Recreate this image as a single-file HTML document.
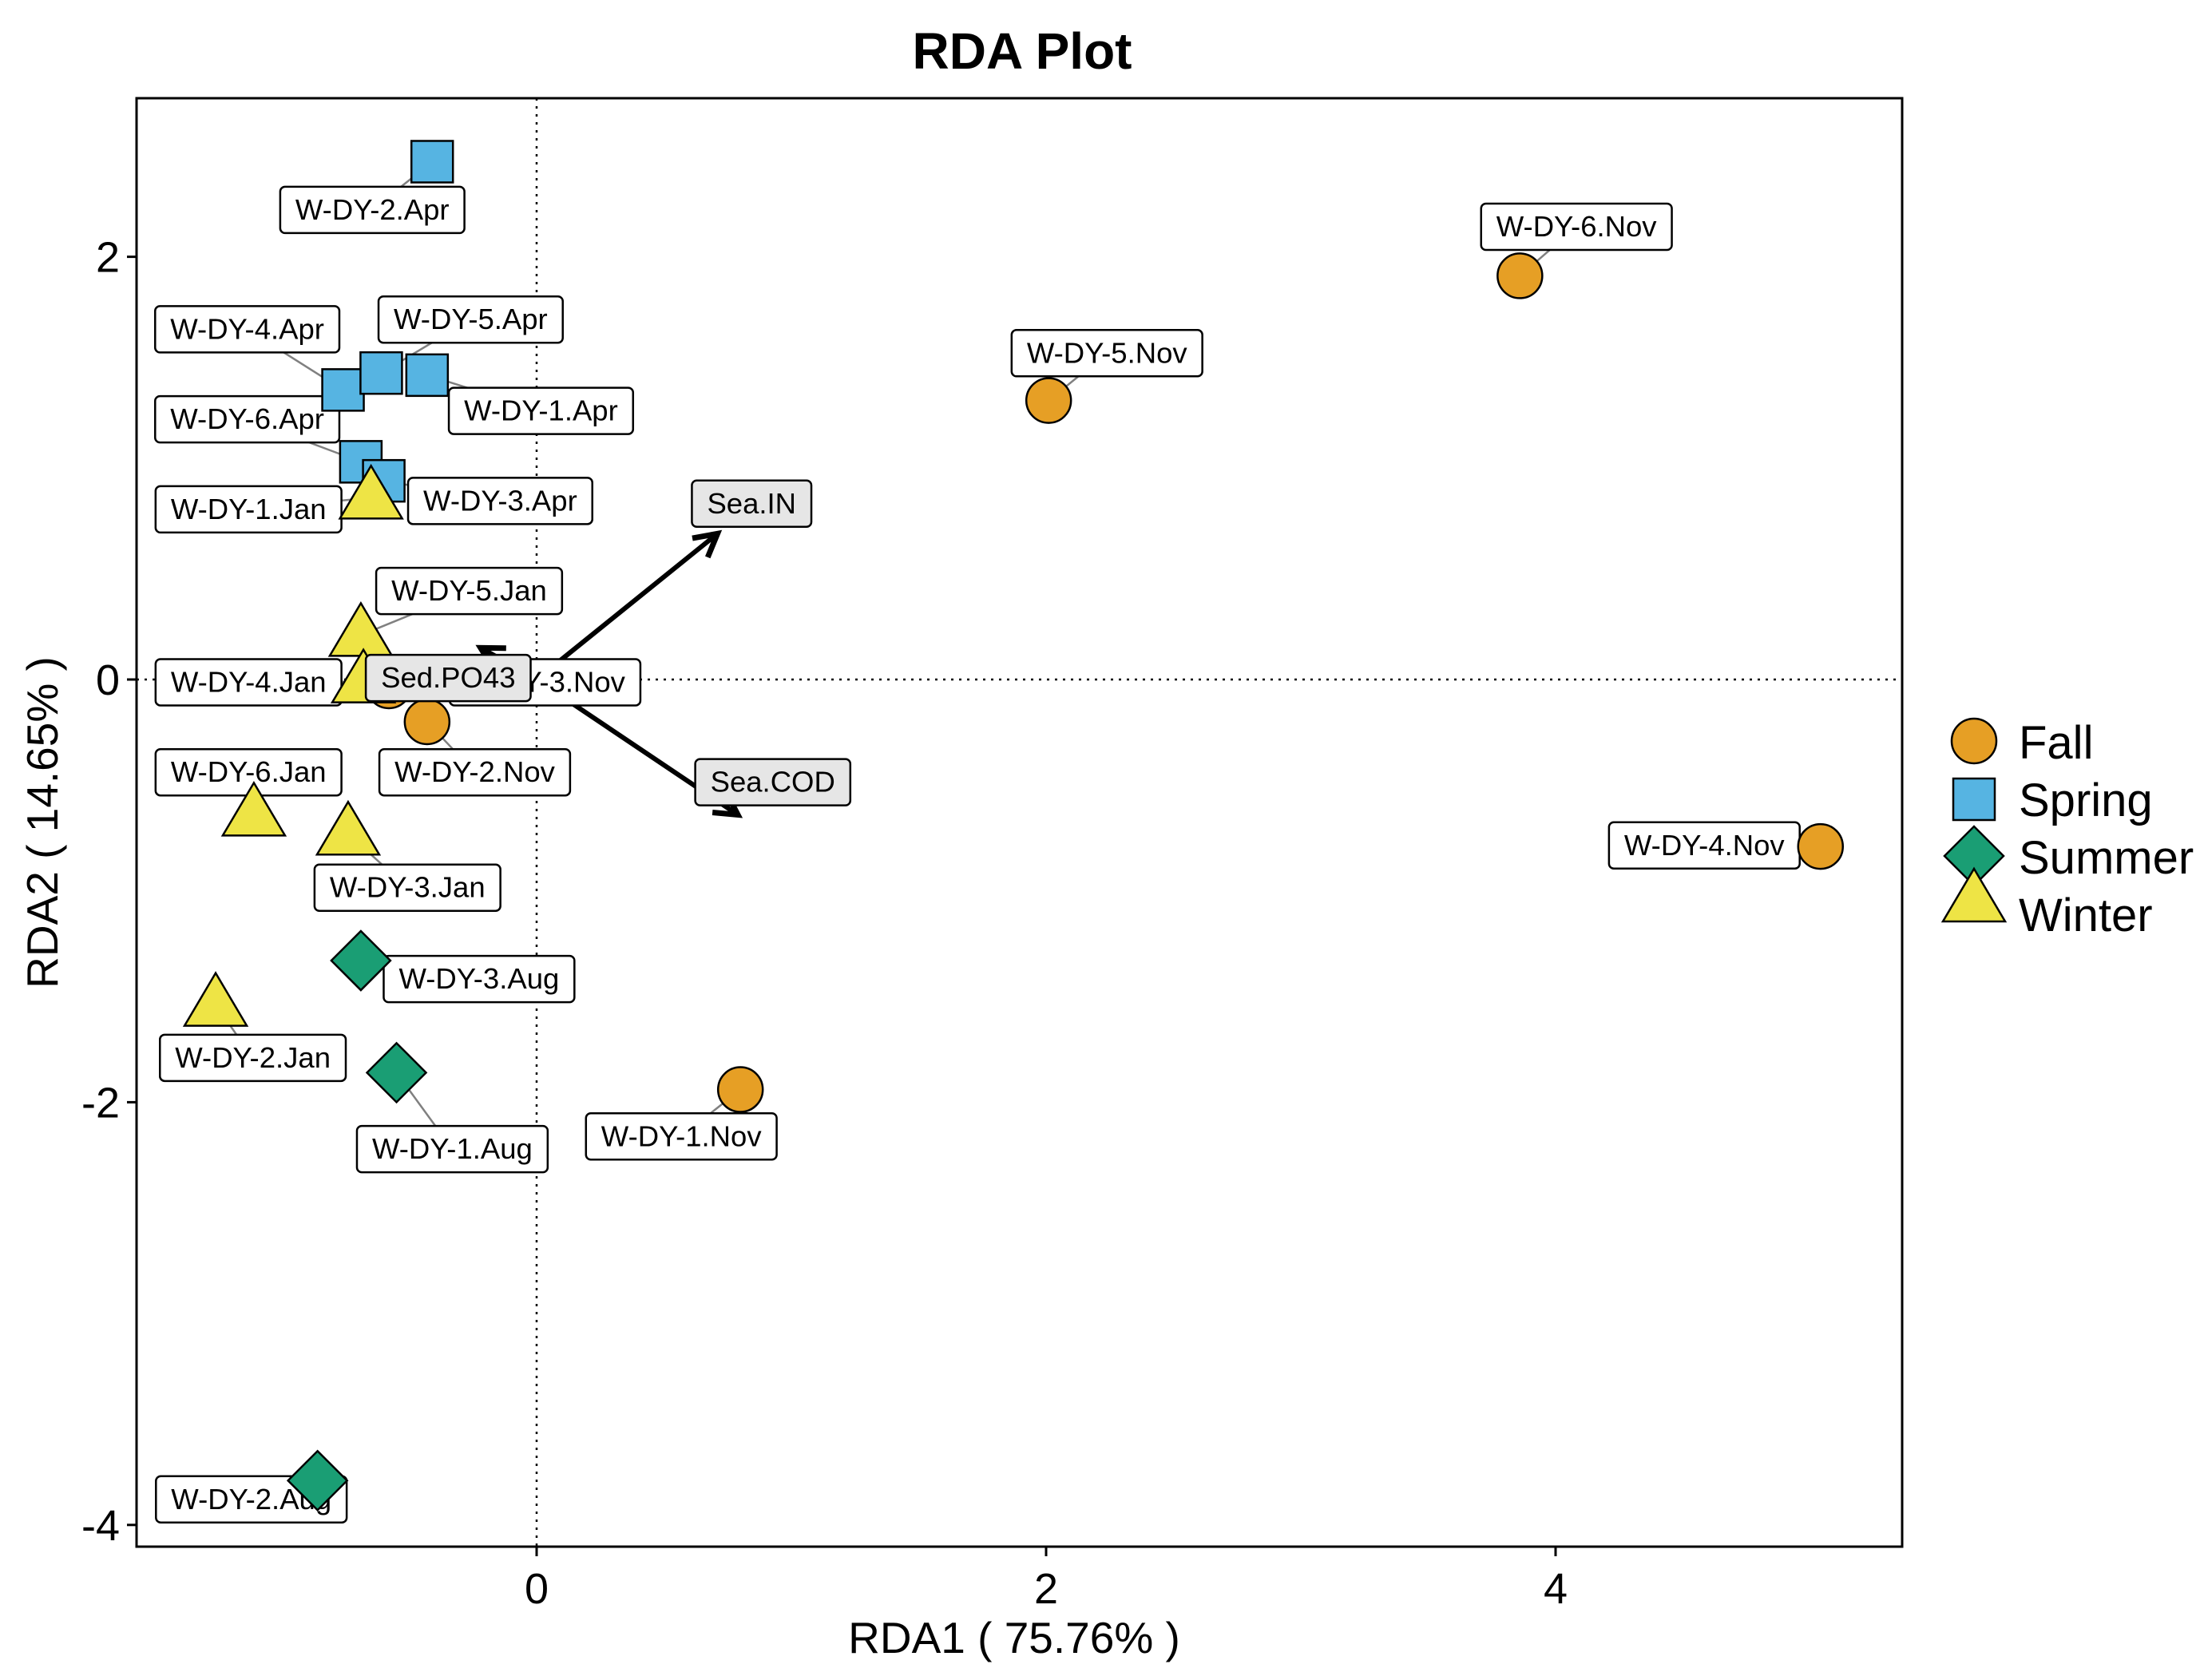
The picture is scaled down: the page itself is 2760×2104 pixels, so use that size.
<!DOCTYPE html>
<html><head><meta charset="utf-8"><title>RDA Plot</title>
<style>html,body{margin:0;padding:0;background:#fff}svg{display:block}text{font-family:"Liberation Sans",Arial,sans-serif}</style>
</head><body>
<svg id="chart" width="2760" height="2104" viewBox="0 0 2760 2104">
<text x="1280" y="86" font-size="64" font-weight="bold" text-anchor="middle">RDA Plot</text>
<g id="axes"></g>
<g id="segs"></g>
<g id="arrows"></g>
<g id="labels"></g>
<g id="points"></g>
<g id="envlabels"></g>
<g id="legend"></g>
</svg>
<script>
const siteNames = ["W-DY-6.Nov","W-DY-5.Nov","W-DY-4.Nov","W-DY-1.Nov","W-DY-2.Nov","W-DY-3.Nov",
 "W-DY-2.Apr","W-DY-4.Apr","W-DY-5.Apr","W-DY-1.Apr","W-DY-6.Apr","W-DY-3.Apr",
 "W-DY-1.Jan","W-DY-5.Jan","W-DY-4.Jan","W-DY-6.Jan","W-DY-3.Jan","W-DY-2.Jan",
 "W-DY-3.Aug","W-DY-1.Aug","W-DY-2.Aug"];
const siteSeason = ["Fall","Fall","Fall","Fall","Fall","Fall",
 "Spring","Spring","Spring","Spring","Spring","Spring",
 "Winter","Winter","Winter","Winter","Winter","Winter",
 "Summer","Summer","Summer"];
const siteX = [3.86,2.01,5.04,0.80,-0.43,-0.58, -0.41,-0.76,-0.61,-0.43,-0.69,-0.60, -0.65,-0.69,-0.68,-1.11,-0.74,-1.26, -0.69,-0.55,-0.86];
const siteY = [1.91,1.32,-0.79,-1.94,-0.20,-0.03, 2.45,1.37,1.45,1.44,1.03,0.94, 0.86,0.21,-0.01,-0.64,-0.73,-1.54, -1.33,-1.86,-3.79];
const labelX = [4.082,2.239,4.584,0.568,-0.243,0.033, -0.645,-1.136,-0.259,0.017,-1.136,-0.143, -1.131,-0.265,-1.131,-1.131,-0.507,-1.114, -0.226,-0.331,-1.120];
const labelY = [2.142,1.544,-0.785,-2.162,-0.439,-0.013, 2.222,1.657,1.703,1.271,1.231,0.845, 0.805,0.419,-0.013,-0.439,-0.985,-1.790, -1.417,-2.222,-3.879];
const envNames = ["Sea.IN","Sea.COD","Sed.PO43"];
const envX = [0.71,0.79,-0.22];
const envY = [0.69,-0.64,0.15];
const envLabelX = [0.844,0.927,-0.347];
const envLabelY = [0.832,-0.486,0.007];
const xTicks = [0,2,4];
const yTicks = [2,0,-2,-4];
const seasons = ["Fall","Spring","Summer","Winter"];

const colors = {Fall:"#E69F25",Spring:"#56B4E2",Summer:"#1A9E74",Winter:"#EEE445"};
const NS="http://www.w3.org/2000/svg";
const L=171,R=2382,T=123,B=1937;
const X=v=>672+v*319, Y=v=>851-v*264.7;
function mk(tag,attrs,parent){const e=document.createElementNS(NS,tag);for(const k in attrs)e.setAttribute(k,attrs[k]);parent.appendChild(e);return e;}
const axes=document.getElementById('axes');
let e;
e=mk('rect',{x:L,y:T,width:R-L,height:B-T,fill:'none',stroke:'#000','stroke-width':3},axes);


e=mk('line',{x1:X(0),x2:X(0),y1:T,y2:B,stroke:'#000','stroke-width':2.5,'stroke-dasharray':'3 7'},axes);


e=mk('line',{x1:L,x2:R,y1:Y(0),y2:Y(0),stroke:'#000','stroke-width':2.5,'stroke-dasharray':'3 7'},axes);


xTicks.forEach(t=>{
 e=mk('line',{x1:X(t),x2:X(t),y1:B,y2:B+12,stroke:'#000','stroke-width':3},axes);
 
 
 e=mk('text',{x:X(t),y:2008,'font-size':54,'text-anchor':'middle'},axes);e.textContent=t;
 
 
});
yTicks.forEach(t=>{
 e=mk('line',{x1:L-12,x2:L,y1:Y(t),y2:Y(t),stroke:'#000','stroke-width':3},axes);
 
 
 e=mk('text',{x:150,y:Y(t)+19,'font-size':54,'text-anchor':'end'},axes);e.textContent=t;
 
 
});
e=mk('text',{x:1270,y:2070,'font-size':55,'text-anchor':'middle'},axes);e.textContent='RDA1 ( 75.76% )';


e=mk('text',{x:0,y:0,'font-size':55,'text-anchor':'middle',transform:'translate(72,1030) rotate(-90)'},axes);e.textContent='RDA2 ( 14.65% )';



function marker(season,cx,cy,parent,s){
 s=s||1;let m;const st={fill:colors[season],stroke:'#000','stroke-width':2.5};
 if(season==='Fall')m=mk('circle',Object.assign({cx:cx,cy:cy,r:28*s},st),parent);
 else if(season==='Spring')m=mk('rect',Object.assign({x:cx-26*s,y:cy-26*s,width:52*s,height:52*s},st),parent);
 else if(season==='Summer')m=mk('polygon',Object.assign({points:`${cx},${cy-37*s} ${cx+37*s},${cy} ${cx},${cy+37*s} ${cx-37*s},${cy}`},st),parent);
 else m=mk('polygon',Object.assign({points:`${cx},${cy-40*s} ${cx+39*s},${cy+26*s} ${cx-39*s},${cy+26*s}`},st),parent);
 return m;
}
const segs=document.getElementById('segs'),pts=document.getElementById('points'),labs=document.getElementById('labels');
function drawLabel(name,lx,ly,parent,fill,dn){
 const g=mk('g',{},parent);
 
 
 const r=mk('rect',{x:0,y:ly-29,width:10,height:58,rx:6,fill:fill,stroke:'#000','stroke-width':2.5},g);
 const t=mk('text',{x:lx,y:ly+12,'font-size':36.5,'text-anchor':'middle'},g);t.textContent=name;
 const w=t.getComputedTextLength()+38;
 r.setAttribute('x',lx-w/2);r.setAttribute('width',w);
 return w;
}
siteNames.forEach((n,i)=>{
 const px=X(siteX[i]),py=Y(siteY[i]),lx=X(labelX[i]),ly=Y(labelY[i]);
 const d=Math.hypot(lx-px,ly-py);
 if(d>70){
  e=mk('line',{x1:px,y1:py,x2:lx,y2:ly,stroke:'#808080','stroke-width':2.5},segs);
  
  
 }
 const m=marker(siteSeason[i],px,py,pts);
 
 
});
siteNames.forEach((n,i)=>drawLabel(n,X(labelX[i]),Y(labelY[i]),labs,'#fff','label-'+n.toLowerCase().replace(/\./g,'-')));
const arr=document.getElementById('arrows'),envl=document.getElementById('envlabels');
envNames.forEach((n,i)=>{
 const x0=X(0),y0=Y(0),x1=X(envX[i]),y1=Y(envY[i]);
 e=mk('line',{x1:x0,y1:y0,x2:x1,y2:y1,stroke:'#000','stroke-width':6},arr);
 
 
 const a=Math.atan2(y1-y0,x1-x0),h=32,sp=0.5;
 e=mk('polyline',{points:`${x1-h*Math.cos(a-sp)},${y1-h*Math.sin(a-sp)} ${x1},${y1} ${x1-h*Math.cos(a+sp)},${y1-h*Math.sin(a+sp)}`,fill:'none',stroke:'#000','stroke-width':7},arr);
 
 
 drawLabel(n,X(envLabelX[i]),Y(envLabelY[i]),envl,'#e6e6e6','label-'+n.toLowerCase().replace(/\./g,'-'));
});
const leg=document.getElementById('legend');
const legY=[928,1001,1072,1128];
seasons.forEach((s,i)=>{
 const m=marker(s,2472,legY[i],leg,1);
 
 
 const t=mk('text',{x:2528,y:[950,1022,1094,1166][i],'font-size':58},leg);t.textContent=s;
 
 
});
</script>
</body></html>
